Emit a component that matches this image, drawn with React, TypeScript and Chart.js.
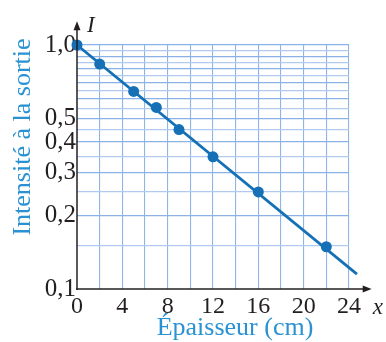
import React, { useEffect, useRef } from "react";
import { Chart, registerables } from "chart.js";

Chart.register(...registerables);

// Data
const xValues = [0, 2, 5, 7, 9, 12, 16, 22];
const intensity = [1.0, 0.835, 0.645, 0.555, 0.45, 0.348, 0.25, 0.149];
const fitX = [0, 24.7];
const fitI = [1.0, 0.115];

const xTicks = [0, 2, 4, 6, 8, 10, 12, 14, 16, 18, 20, 22, 24];
const xLabels = [0, 4, 8, 12, 16, 20, 24];
const yTicks = [0.1, 0.15, 0.2, 0.25, 0.3, 0.35, 0.4, 0.45, 0.5, 0.55, 0.6, 0.65, 0.7, 0.75, 0.8, 0.85, 0.9, 0.95, 1.0];
const yLabels = [0.1, 0.2, 0.3, 0.4, 0.5, 1.0];

const xTitle = "Épaisseur (cm)";
const yTitle = "Intensité à la sortie";

const DARK = "#231f20";
const BLUE = "#1670b6";
const TITLE_BLUE = "#2a92d2";
const SERIF = "'Liberation Serif', 'DejaVu Serif', serif";

const near = (a: number, list: number[]) => list.some((v) => Math.abs(v - a) < 1e-9);

const decorPlugin = {
  id: "decor",
  afterDraw(chart: any) {
    const { ctx, chartArea, scales } = chart;
    const xs = scales.x;
    const ys = scales.y;
    const x0 = chartArea.left;
    const y0 = chartArea.bottom;
    const xEnd = xs.getPixelForValue(26);
    const yEnd = ys.getPixelForValue(1.25);
    ctx.save();
    ctx.strokeStyle = DARK;
    ctx.fillStyle = DARK;
    ctx.lineWidth = 1.5;
    // y axis
    ctx.beginPath();
    ctx.moveTo(x0, y0 + 1);
    ctx.lineTo(x0, yEnd + 6);
    ctx.stroke();
    ctx.beginPath();
    ctx.moveTo(x0, yEnd);
    ctx.lineTo(x0 - 3.5, yEnd + 9);
    ctx.lineTo(x0 + 3.5, yEnd + 9);
    ctx.closePath();
    ctx.fill();
    // x axis
    ctx.beginPath();
    ctx.moveTo(x0 - 1, y0);
    ctx.lineTo(xEnd - 6, y0);
    ctx.stroke();
    ctx.beginPath();
    ctx.moveTo(xEnd, y0);
    ctx.lineTo(xEnd - 9, y0 - 3.5);
    ctx.lineTo(xEnd - 9, y0 + 3.5);
    ctx.closePath();
    ctx.fill();
    // axis symbols
    ctx.font = `italic 23px ${SERIF}`;
    ctx.textAlign = "left";
    ctx.textBaseline = "middle";
    ctx.fillText("I", x0 + 10, yEnd + 5);
    ctx.fillText("x", xEnd + 1, y0 + 19);
    // titles
    ctx.fillStyle = TITLE_BLUE;
    ctx.font = `26px ${SERIF}`;
    ctx.textAlign = "center";
    ctx.textBaseline = "middle";
    ctx.fillText(xTitle, 235, 328);
    ctx.translate(23, 137);
    ctx.rotate(-Math.PI / 2);
    ctx.fillText(yTitle, 0, 0);
    ctx.restore();
  },
};

export default function App() {
  const ref = useRef<HTMLCanvasElement | null>(null);
  useEffect(() => {
    if (!ref.current) return;
    const chart = new Chart(ref.current, {
      type: "scatter",
      data: {
        datasets: [
          {
            label: "fit",
            data: fitX.map((x, i) => ({ x, y: fitI[i] })),
            showLine: true,
            borderColor: BLUE,
            borderWidth: 2.8,
            pointRadius: 0,
            clip: false as any,
          },
          {
            label: "mesures",
            data: xValues.map((x, i) => ({ x, y: intensity[i] })),
            showLine: false,
            backgroundColor: BLUE,
            borderColor: BLUE,
            pointRadius: 5.5,
            borderWidth: 0,
            clip: false as any,
          },
        ],
      },
      options: {
        animation: false,
        responsive: false,
        devicePixelRatio: 1,
        layout: { padding: { top: 45, right: 37, left: 0, bottom: 0 } },
        plugins: { legend: { display: false }, tooltip: { enabled: false } },
        scales: {
          x: {
            type: "linear",
            min: 0,
            max: 24,
            afterBuildTicks: (scale: any) => {
              scale.ticks = xTicks.map((v) => ({ value: v }));
            },
            afterFit: (scale: any) => {
              scale.height = 53;
            },
            ticks: {
              autoSkip: false,
              maxRotation: 0,
              padding: 3,
              color: DARK,
              font: { family: SERIF, size: 24 },
              callback: (v: any) => (near(Number(v), xLabels) ? String(v) : ""),
            },
            grid: {
              drawTicks: false,
              color: (c: any) => (c.tick && c.tick.value === 0 ? "rgba(0,0,0,0)" : "#8fb5e8"),
              lineWidth: 1.1,
            },
            border: { display: false },
          },
          y: {
            type: "logarithmic",
            min: 0.1,
            max: 1.0,
            afterBuildTicks: (scale: any) => {
              scale.ticks = yTicks.map((v) => ({ value: v }));
            },
            afterFit: (scale: any) => {
              scale.width = 77;
            },
            ticks: {
              autoSkip: false,
              padding: 1,
              color: DARK,
              font: { family: SERIF, size: 25 },
              callback: (v: any) => {
                const n = Number(v);
                return near(n, yLabels) ? n.toFixed(1).replace(".", ",") : "";
              },
            },
            grid: {
              drawTicks: false,
              color: (c: any) => {
                const v = c.tick ? c.tick.value : 0;
                if (Math.abs(v - 0.1) < 1e-9) return "rgba(0,0,0,0)";
                const tenth = Math.abs(v * 10 - Math.round(v * 10)) < 1e-6;
                return tenth ? "#8ab2e7" : "#b0cbef";
              },
              lineWidth: 1.3,
            },
            border: { display: false },
          },
        },
      },
      plugins: [decorPlugin],
    } as any);
    return () => chart.destroy();
  }, []);
  return (
    <div style={{ position: "absolute", left: 0, top: 0, width: 386, height: 342, background: "#fff" }}>
      <canvas ref={ref} width={386} height={342} style={{ display: "block" }} />
    </div>
  );
}
